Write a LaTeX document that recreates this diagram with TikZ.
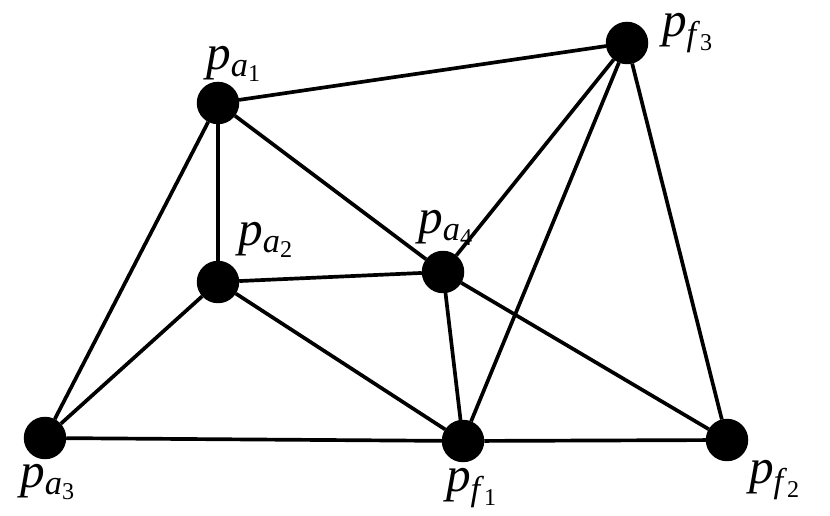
\documentclass[tikz,border=0pt]{standalone}
\usepackage{fontspec}
\setmainfont{Liberation Serif}
\usetikzlibrary{positioning}
\newcommand{\plab}[2]{\textit{p}\textsubscript{\textit{#1}\textsubscript{#2}}}
\begin{document}
\begin{tikzpicture}[
    x=0.02cm, y=-0.02cm,
    line width=2.1pt,
    vertex/.style={circle, fill=black, minimum size=0.85cm, inner sep=0pt, outer sep=0pt},
    lbl/.style={font=\fontsize{28}{32}\selectfont, inner sep=0pt}
]
\useasboundingbox (0,0) rectangle (830,516);

% Nodes
\node[vertex] (pa1) at (218,103) {};
\node[vertex] (pa2) at (218,282) {};
\node[vertex] (pa3) at (45,438) {};
\node[vertex] (pa4) at (443,272) {};
\node[vertex] (pf1) at (463,441) {};
\node[vertex] (pf2) at (727,440) {};
\node[vertex] (pf3) at (627,43) {};

% Labels
\node[lbl] (la1) at (234,64) {\plab{a}{1}};
\node[lbl] (la2) at (266,240) {\plab{a}{2}};
\node[lbl] (la3) at (48,482) {\plab{a}{3}};
\node[lbl] (la4) at (446,228) {\plab{a}{4}};
\node[lbl] (lf1) at (472,488) {\plab{f}{1}};
\node[lbl] (lf2) at (775,480) {\plab{f}{2}};
\node[lbl] (lf3) at (688,33) {\plab{f}{3}};

% Edges
\foreach \s/\t in {pa1/pf3, pa1/pa2, pa1/pa4, pa1/pa3, pa2/pa4, pa2/pa3, pa2/pf1,
    pa3/pf1, pa4/pf3, pa4/pf1, pa4/pf2, pf1/pf2, pf1/pf3, pf3/pf2}
  \draw (\s) -- (\t);
\end{tikzpicture}
\end{document}
